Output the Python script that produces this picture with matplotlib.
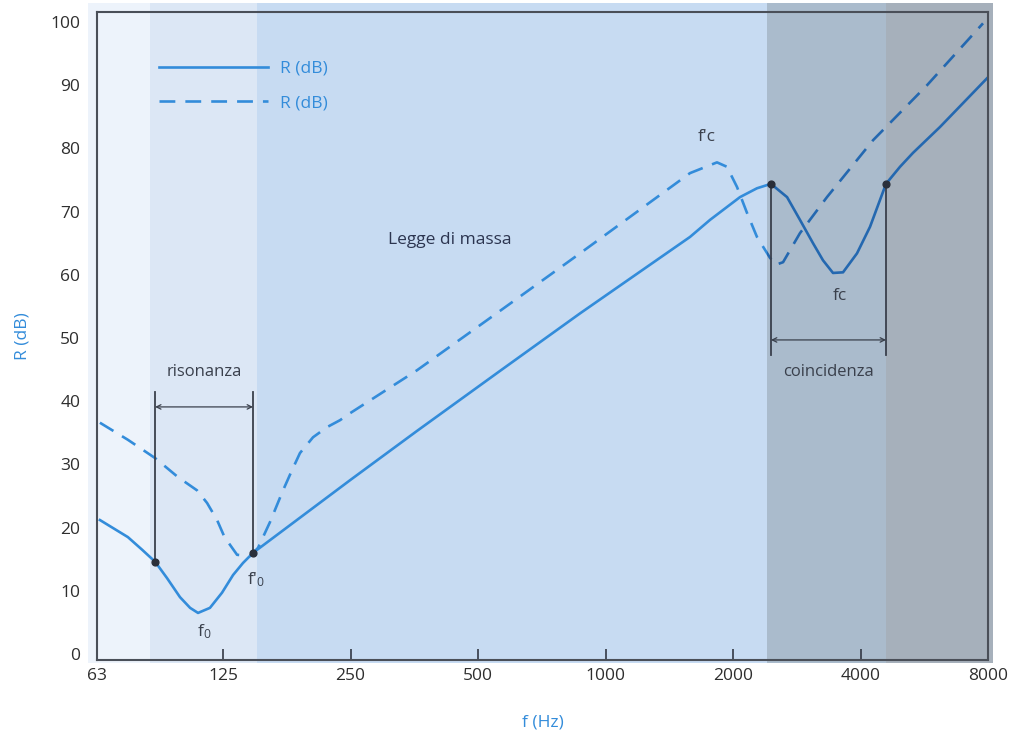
import matplotlib
matplotlib.use("Agg")
import matplotlib.pyplot as plt
from matplotlib.patches import Rectangle
from matplotlib.lines import Line2D

plt.rcParams['font.family'] = ['Open Sans', 'DejaVu Sans']
plt.rcParams['mathtext.default'] = 'regular'

# curves (f in Hz, R in dB)
f_solid = [64, 74.5, 80.5, 86.4, 92.2, 98.9, 104.5, 109.1, 116.4, 124.3, 132.0, 139.3,
           147.1, 249.3, 358.8, 563.5, 870.5, 1583, 1765, 2077, 2278, 2458, 2683, 2878,
           3090, 3262, 3444, 3637, 3924, 4212, 4594, 4958, 5320, 6162, 7955]
r_solid = [21.2, 18.5, 16.5, 14.6, 12.0, 9.0, 7.3, 6.5, 7.3, 9.7, 12.5, 14.4,
           16.0, 27.5, 35.3, 44.8, 53.9, 66.0, 68.7, 72.3, 73.7, 74.4, 72.3, 68.7,
           65.0, 62.3, 60.3, 60.4, 63.4, 67.6, 74.4, 77.1, 79.3, 83.4, 91.1]

f_dash = [64, 74.5, 86.4, 97.8, 108.5, 114.6, 121.0, 126, 134.9, 144.7, 151.2, 161.4,
          173.2, 181.9, 189.9, 203.9, 220, 236.1, 249.3, 358.8, 563.5, 870.5, 1583, 1833,
          1935, 2044, 2158, 2278, 2445, 2526, 2625, 2878, 3333, 4281, 5741, 7785]
r_dash = [36.6, 33.9, 31.0, 28.0, 25.9, 23.9, 21.2, 18.5, 15.7, 15.5, 16.8, 20.9,
          25.9, 29.1, 31.8, 34.3, 35.9, 37.0, 38.1, 44.9, 54.3, 63.4, 76.1, 77.8,
          77.1, 73.9, 69.8, 66.0, 62.7, 61.6, 62.0, 66.6, 72.3, 81.3, 90.0, 99.8]

# shaded frequency bands
band_edges = [60, 84, 150, 2400, 4600, 8200]
band_colors = ['#edf3fb', '#dce7f5', '#c7dbf2', '#aabbcc', '#a6b0bb']

# marked points
res_f = [86.4, 147.1]
res_r = [14.6, 16.0]
coin_f = [2458, 4594]
coin_r = [74.4, 74.4]

xticks = [63, 125, 250, 500, 1000, 2000, 4000, 8000]
yticks = list(range(0, 101, 10))

light_blue = '#338cda'
dark_blue = '#2468b0'
ink = '#3a404c'

fig = plt.figure(figsize=(10.17, 7.39), dpi=100)
ax = fig.add_axes([0.0954, 0.1069, 0.8761, 0.8769])
ax.set_xscale('log')
ax.set_xlim(63, 8000)
ax.set_ylim(-0.95, 101.6)

for i in range(len(band_colors)):
    ax.add_patch(Rectangle((band_edges[i], -1.4), band_edges[i + 1] - band_edges[i], 104.4,
                           facecolor=band_colors[i], edgecolor='none', zorder=0, clip_on=False))

# curves, darker inside the coincidence zone
for col, x0, x1 in [(light_blue, 50, 2400), (dark_blue, 2400, 9000)]:
    clip = Rectangle((x0, -10), x1 - x0, 130, transform=ax.transData)
    l1, = ax.plot(f_solid, r_solid, color=col, lw=1.9, zorder=3, solid_joinstyle='round')
    l2, = ax.plot(f_dash, r_dash, color=col, lw=1.9, ls=(0, (6, 3.8)), zorder=3)
    l1.set_clip_path(clip)
    l2.set_clip_path(clip)

# resonance bracket
for fx, ry in zip(res_f, res_r):
    ax.plot([fx, fx], [ry, 41.5], color=ink, lw=1.3, zorder=4)
ax.annotate('', xy=(res_f[1], 39.1), xytext=(res_f[0], 39.1),
            arrowprops=dict(arrowstyle='<->', color=ink, lw=0.9, shrinkA=0, shrinkB=0,
                            mutation_scale=8), zorder=4)
ax.scatter(res_f, res_r, s=24, color='#2a2f3a', zorder=5)

# coincidence bracket
for fx, ry in zip(coin_f, coin_r):
    ax.plot([fx, fx], [ry, 47.3], color=ink, lw=1.3, zorder=4)
ax.annotate('', xy=(coin_f[1], 49.7), xytext=(coin_f[0], 49.7),
            arrowprops=dict(arrowstyle='<->', color=ink, lw=0.9, shrinkA=0, shrinkB=0,
                            mutation_scale=8), zorder=4)
ax.scatter(coin_f, coin_r, s=24, color='#2a2f3a', zorder=5)

# labels on the chart
ax.text(113, 44.6, 'risonanza', color=ink, fontsize=12, ha='center', va='center')
ax.text(3352, 44.6, 'coincidenza', color=ink, fontsize=12, ha='center', va='center')
ax.text(429, 65.5, 'Legge di massa', color='#2c3550', fontsize=12.5, ha='center', va='center')
ax.text(1736, 81.8, "f'c", color=ink, fontsize=12.5, ha='center', va='center')
ax.text(3578, 56.6, 'fc', color=ink, fontsize=12.5, ha='center', va='center')
ax.text(113, 3.5, 'f$_0$', color=ink, fontsize=12.5, ha='center', va='center')
ax.text(150, 11.7, "f'$_0$", color=ink, fontsize=12.5, ha='center', va='center')

# legend
handles = [Line2D([], [], color=light_blue, lw=1.9),
           Line2D([], [], color=light_blue, lw=1.9, ls=(0, (6, 3.8)))]
leg = ax.legend(handles, ['R (dB)', 'R (dB)'], loc='upper left', bbox_to_anchor=(0.069, 0.925),
                frameon=False, handlelength=6.3, handletextpad=0.7, labelspacing=1.05,
                fontsize=12.5, borderpad=0, borderaxespad=0)
for t in leg.get_texts():
    t.set_color(light_blue)

ax.set_xticks(xticks)
ax.set_xticklabels([str(v) for v in xticks])
ax.minorticks_off()
ax.set_yticks(yticks)
ax.tick_params(axis='x', direction='in', length=8, width=1.2, color='#333844',
               labelsize=12.5, labelcolor='#2e2e2e', pad=6)
ax.tick_params(axis='y', length=0, labelsize=12.5, labelcolor='#2e2e2e', pad=12)

for sp in ax.spines.values():
    sp.set_color('#4a4f58')
    sp.set_linewidth(1.5)
    sp.set_zorder(6)

ax.set_xlabel('f (Hz)', color=light_blue, fontsize=12.5, labelpad=22)
ax.set_ylabel('R (dB)', color=light_blue, fontsize=12.5, labelpad=14)

fig.savefig('out.png', dpi=100)
